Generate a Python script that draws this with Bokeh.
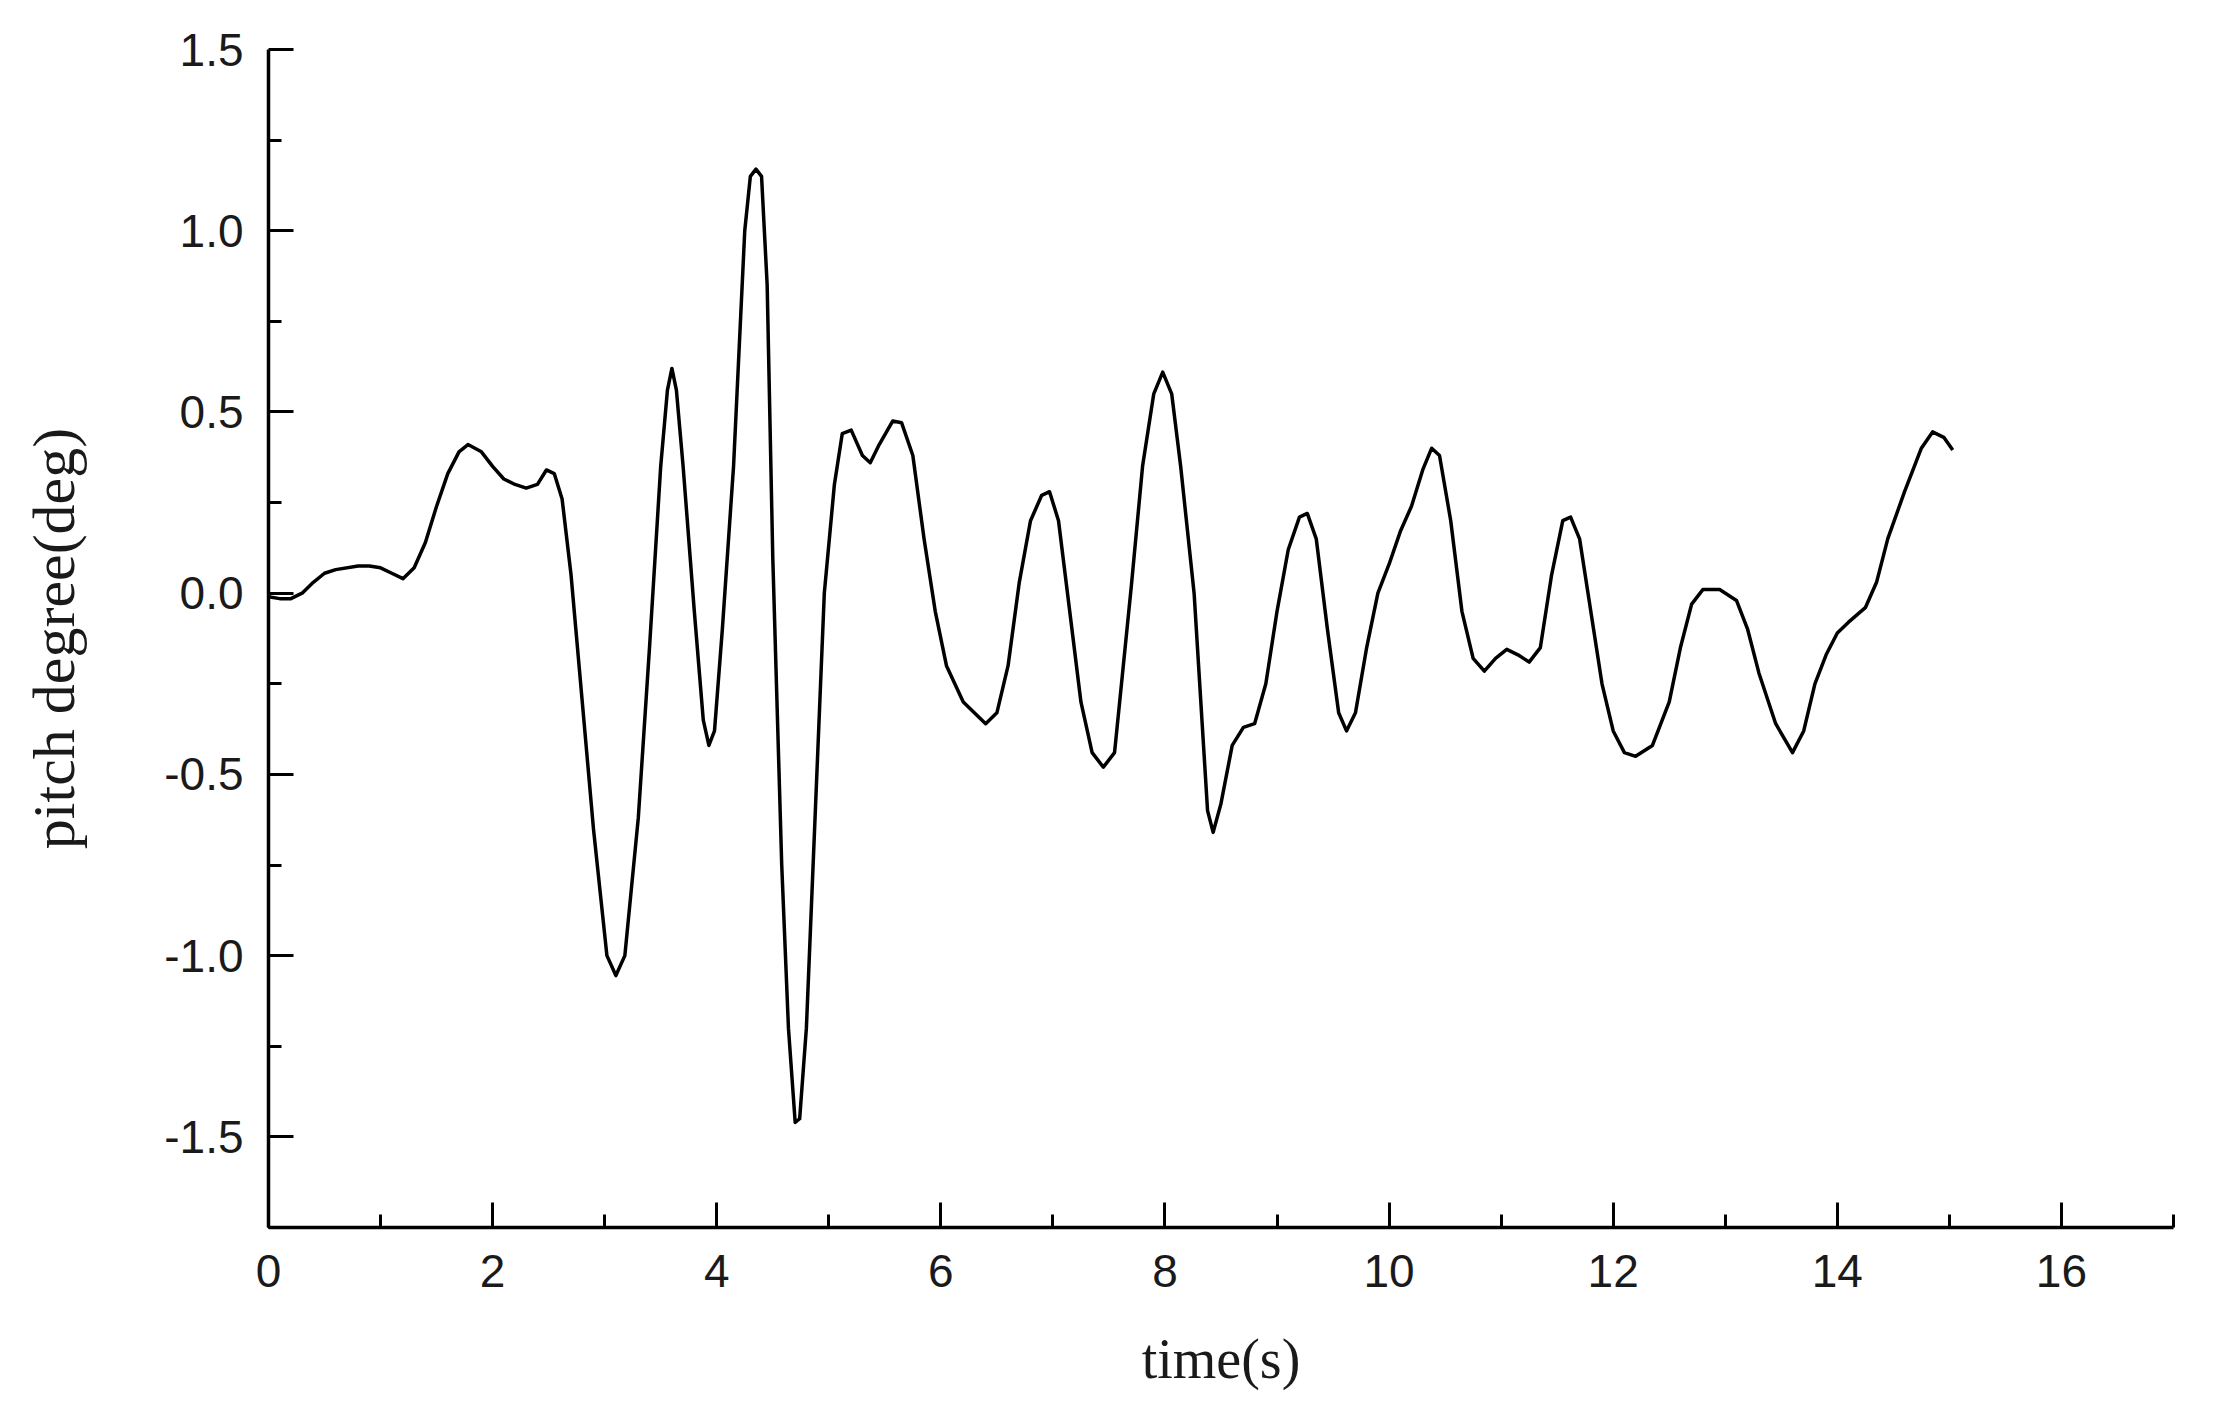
from bokeh.plotting import figure
from bokeh.models import Range1d, FixedTicker
from bokeh.embed import file_html
from bokeh.resources import INLINE

# time (s)
time_s = [0.0, 0.1, 0.2, 0.3, 0.4, 0.5, 0.6, 0.8, 0.9, 1.0, 1.1, 1.2, 1.3, 1.4, 1.5,
          1.6, 1.7, 1.78, 1.9, 2.0, 2.1, 2.2, 2.3, 2.4, 2.48, 2.55, 2.62,
          2.7, 2.8, 2.9, 3.02, 3.1, 3.18, 3.3, 3.4, 3.5, 3.56, 3.6, 3.64, 3.7, 3.8, 3.88,
          3.93, 3.98, 4.05, 4.15, 4.25, 4.3, 4.35, 4.4, 4.45, 4.5, 4.58, 4.64, 4.7,
          4.74, 4.8, 4.88, 4.96, 5.05, 5.12, 5.2, 5.3, 5.37, 5.45, 5.57, 5.65, 5.75,
          5.85, 5.95, 6.05, 6.2, 6.4, 6.5, 6.6, 6.7, 6.8, 6.9, 6.97, 7.05, 7.15,
          7.25, 7.35, 7.45, 7.55, 7.7, 7.8, 7.9, 7.98, 8.06, 8.14, 8.26, 8.33,
          8.38, 8.43, 8.5, 8.6, 8.7, 8.8, 8.9, 9.0, 9.1, 9.2, 9.27, 9.35, 9.45,
          9.55, 9.62, 9.7, 9.8, 9.9, 10.0, 10.1, 10.2, 10.3, 10.38, 10.45, 10.55,
          10.65, 10.75, 10.85, 10.95, 11.05, 11.15, 11.25, 11.35, 11.45, 11.55,
          11.62, 11.7, 11.8, 11.9, 12.0, 12.1, 12.2, 12.35, 12.5, 12.6, 12.7,
          12.8, 12.95, 13.1, 13.2, 13.3, 13.45, 13.6, 13.7, 13.8, 13.9, 14.0,
          14.1, 14.25, 14.35, 14.45, 14.6, 14.75, 14.85, 14.95, 15.03]

# pitch degree (deg)
pitch_deg = [-0.01, -0.015, -0.015, 0.0, 0.03, 0.055, 0.065, 0.075, 0.075, 0.07, 0.055, 0.04, 0.07, 0.14, 0.24,
             0.33, 0.39, 0.41, 0.39, 0.35, 0.315, 0.30, 0.29, 0.30, 0.34, 0.33, 0.26,
             0.05, -0.3, -0.65, -1.0, -1.055, -1.0, -0.62, -0.15, 0.35, 0.56, 0.62, 0.56, 0.35, -0.05, -0.35,
             -0.42, -0.38, -0.1, 0.35, 1.0, 1.15, 1.17, 1.15, 0.85, 0.1, -0.75, -1.2, -1.46,
             -1.45, -1.2, -0.6, 0.0, 0.3, 0.44, 0.45, 0.38, 0.36, 0.41, 0.475, 0.47, 0.38,
             0.15, -0.05, -0.2, -0.3, -0.36, -0.33, -0.2, 0.03, 0.2, 0.27, 0.28, 0.2, -0.05,
             -0.3, -0.44, -0.48, -0.44, 0.02, 0.35, 0.55, 0.61, 0.55, 0.35, 0.0, -0.35,
             -0.6, -0.66, -0.58, -0.42, -0.37, -0.36, -0.25, -0.05, 0.12, 0.21, 0.22, 0.15, -0.1,
             -0.33, -0.38, -0.33, -0.15, 0.0, 0.08, 0.17, 0.24, 0.34, 0.40, 0.38, 0.2,
             -0.05, -0.18, -0.215, -0.18, -0.155, -0.17, -0.19, -0.15, 0.05, 0.2,
             0.21, 0.15, -0.05, -0.25, -0.38, -0.44, -0.45, -0.42, -0.3, -0.15, -0.03,
             0.01, 0.01, -0.02, -0.1, -0.22, -0.36, -0.44, -0.38, -0.25, -0.17, -0.11,
             -0.08, -0.04, 0.03, 0.15, 0.28, 0.40, 0.445, 0.43, 0.395]

x_major = [0, 2, 4, 6, 8, 10, 12, 14, 16]
x_minor = [1, 3, 5, 7, 9, 11, 13, 15, 17]
y_major = [-1.5, -1.0, -0.5, 0.0, 0.5, 1.0, 1.5]
y_minor = [-1.75, -1.25, -0.75, -0.25, 0.25, 0.75, 1.25]

p = figure(width=2190, height=1400, output_backend="svg", toolbar_location=None,
           x_range=Range1d(0, 17), y_range=Range1d(-1.75, 1.5),
           min_border_left=268, min_border_right=17, min_border_top=49, min_border_bottom=173)

p.line(time_s, pitch_deg, line_color="black", line_width=3.5, line_join="round")

p.xgrid.visible = False
p.ygrid.visible = False
p.outline_line_color = None
p.background_fill_color = "white"

p.xaxis.ticker = FixedTicker(ticks=x_major, minor_ticks=x_minor)
p.yaxis.ticker = FixedTicker(ticks=y_major, minor_ticks=y_minor)
p.yaxis.major_label_overrides = {v: f"{v:.1f}" for v in y_major}

for ax in (p.xaxis[0], p.yaxis[0]):
    ax.axis_line_color = "black"
    ax.axis_line_width = 3.5
    ax.major_tick_line_color = "black"
    ax.major_tick_line_width = 3
    ax.minor_tick_line_color = "black"
    ax.minor_tick_line_width = 3
    ax.major_tick_in = 25
    ax.major_tick_out = 0
    ax.minor_tick_in = 13
    ax.minor_tick_out = 0
    ax.major_label_text_font = "Liberation Sans"
    ax.major_label_text_font_size = "46px"
    ax.major_label_text_color = "#1a1a1a"
    ax.axis_label_text_font = "Liberation Serif"
    ax.axis_label_text_font_style = "normal"
    ax.axis_label_text_color = "#1a1a1a"

p.xaxis.axis_label = "time(s)"
p.yaxis.axis_label = "pitch degree(deg)"
p.xaxis.axis_label_text_font_size = "56px"
p.yaxis.axis_label_text_font_size = "60px"
p.xaxis.major_label_standoff = 27
p.yaxis.major_label_standoff = 25
p.xaxis.axis_label_standoff = 38
p.yaxis.axis_label_standoff = 74

open("out.html", "w").write(file_html(p, INLINE))
